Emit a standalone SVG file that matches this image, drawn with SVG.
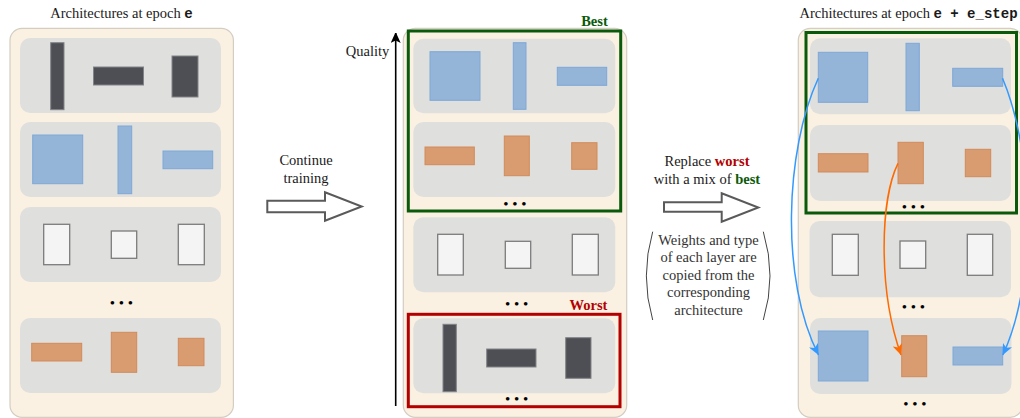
<svg xmlns="http://www.w3.org/2000/svg" width="1020" height="418" viewBox="0 0 1020 418">
<style>
.panel{fill:#fbf1e2;stroke:#d3cdc2;stroke-width:1.2}
.row{fill:#dfe0dd}
.dk{fill:#4e4f54;stroke:#828387;stroke-width:1}
.bl{fill:#95b5d8;stroke:#7ea7d6;stroke-width:1}
.or{fill:#d99c70;stroke:#d18a5b;stroke-width:1}
.wh{fill:#f4f4f4;stroke:#7b7b7b;stroke-width:1.3}
.t{font-family:"Liberation Serif","Times New Roman",serif;font-size:14.5px;fill:#1a1a1a;text-anchor:middle}
.d{fill:#333}
.mono{font-family:"Liberation Mono","Courier New",monospace;font-weight:bold;font-size:14px}
.dots{font-family:"Liberation Serif",serif;font-size:15px;fill:#000;text-anchor:middle}
.best{fill:none;stroke:#0b5a0b;stroke-width:3}
.worst{fill:none;stroke:#b30000;stroke-width:3}
.g{fill:#0b5a0b;font-weight:bold}
.r{fill:#b30000;font-weight:bold}
.hollow{fill:#fff;stroke:#5a5a5a;stroke-width:2;stroke-linejoin:miter}
.paren{fill:none;stroke:#444;stroke-width:1}
</style>
<defs>
<marker id="ab" markerUnits="userSpaceOnUse" markerWidth="12" markerHeight="10" refX="11" refY="5" orient="auto"><path d="M0,0 L11,5 L0,10 L3,5 z" fill="#3399ff"/></marker>
<marker id="ao" markerUnits="userSpaceOnUse" markerWidth="12" markerHeight="10" refX="11" refY="5" orient="auto"><path d="M0,0 L11,5 L0,10 L3,5 z" fill="#ff6a00"/></marker>
<marker id="ak" markerUnits="userSpaceOnUse" markerWidth="10" markerHeight="12" refX="10" refY="5" orient="auto"><path d="M0,0 L11,5 L0,10 L2.5,5 z" fill="#000"/></marker>
</defs>

<text class="t" x="121.5" y="17.5">Architectures at epoch <tspan class="mono">e</tspan></text>
<text class="t" x="908.5" y="17.5">Architectures at epoch <tspan class="mono">e + e_step</tspan></text>

<!-- Left panel -->
<g id="panel-left">
<rect class="panel" x="10" y="28.3" width="223.4" height="389" rx="12"/>
<g id="left-row1"><rect class="row" x="20" y="38" width="201" height="75" rx="10"/>
<rect class="dk" x="50.7" y="42.7" width="13.3" height="67"/>
<rect class="dk" x="93.5" y="67" width="50" height="18"/>
<rect class="dk" x="172" y="56" width="26" height="41"/></g>
<g id="left-row2"><rect class="row" x="20" y="122" width="201" height="75" rx="10"/>
<rect class="bl" x="32.7" y="135" width="50" height="48.7"/>
<rect class="bl" x="118" y="126" width="13.7" height="67.7"/>
<rect class="bl" x="163" y="151" width="49.7" height="17.7"/></g>
<g id="left-row3"><rect class="row" x="20" y="207" width="201" height="75" rx="10"/>
<rect class="wh" x="43.7" y="224.3" width="26" height="40.4"/>
<rect class="wh" x="111.3" y="231" width="25.4" height="27.3"/>
<rect class="wh" x="178.3" y="224.3" width="26" height="40.4"/></g>
<text class="dots" x="121.5" y="308">• • •</text>
<g id="left-row4"><rect class="row" x="20" y="318" width="201" height="75" rx="10"/>
<rect class="or" x="31.7" y="343.3" width="50" height="17.7"/>
<rect class="or" x="111.3" y="332.3" width="25.4" height="40"/>
<rect class="or" x="178.3" y="338.3" width="25.7" height="27.4"/></g>
</g>

<!-- Continue training -->
<g id="continue-training">
<text class="t" x="306" y="164.5">Continue</text>
<text class="t" x="306" y="182.5">training</text>
<polygon class="hollow" points="267.3,200.7 325,200.7 325,192.3 361.7,206.5 325,220.7 325,212.3 267.3,212.3"/>
</g>

<!-- Middle panel -->
<g id="panel-middle">
<rect class="panel" x="403.3" y="28.3" width="223.4" height="389" rx="12"/>
<g id="mid-row1"><rect class="row" x="413.3" y="38.7" width="202" height="74.6" rx="10"/>
<rect class="bl" x="430" y="51.7" width="50" height="48.6"/>
<rect class="bl" x="513.3" y="42.7" width="12.7" height="66.6"/>
<rect class="bl" x="557.3" y="67.3" width="49.4" height="18"/></g>
<g id="mid-row2"><rect class="row" x="413.3" y="122" width="202" height="75" rx="10"/>
<rect class="or" x="425" y="147" width="49.3" height="17.7"/>
<rect class="or" x="504.3" y="136" width="25" height="39.7"/>
<rect class="or" x="571.7" y="142.7" width="25.3" height="26.6"/></g>
<text class="dots" x="515" y="209.3">• • •</text>
<rect id="best-box" class="best" x="408.3" y="31" width="212.4" height="180"/>
<text class="t g" x="594.5" y="26">Best</text>
<g id="mid-row3"><rect class="row" x="413.3" y="217.3" width="202" height="75" rx="10"/>
<rect class="wh" x="437.7" y="234.3" width="25.6" height="40.7"/>
<rect class="wh" x="505.3" y="241.3" width="25.4" height="27"/>
<rect class="wh" x="572.3" y="234.3" width="26" height="40.7"/></g>
<text class="dots" x="516.7" y="309.3">• • •</text>
<text class="t r" x="588.5" y="309.5">Worst</text>
<g id="mid-row4"><rect class="row" x="413.3" y="318.3" width="202" height="75" rx="10"/>
<rect class="dk" x="443" y="324.3" width="13.3" height="67.4"/>
<rect class="dk" x="486.7" y="349" width="49.3" height="18"/>
<rect class="dk" x="565.7" y="337.7" width="25.3" height="40.6"/></g>
<text class="dots" x="516.7" y="404.3">• • •</text>
<rect id="worst-box" class="worst" x="408.3" y="314.3" width="211.7" height="92.4"/>
</g>

<text class="t" x="367.5" y="56">Quality</text>

<!-- Replace worst -->
<g id="replace">
<text class="t" x="707" y="165.5">Replace <tspan class="r">worst</tspan></text>
<text class="t" x="707" y="183.5">with a mix of <tspan class="g">best</tspan></text>
<polygon class="hollow" points="664,202.3 721.7,202.3 721.7,193.3 758.3,207.5 721.7,221.7 721.7,211.7 664,211.7"/>
</g>
<g id="note">
<path class="paren" d="M652.7,231.7 Q640,276 652.7,320"/>
<path class="paren" d="M763.3,231.7 Q776.7,276 763.3,320"/>
<text class="t d" x="708.5" y="244.5">Weights and type</text>
<text class="t d" x="708.5" y="262">of each layer are</text>
<text class="t d" x="708.5" y="279.5">copied from the</text>
<text class="t d" x="708.5" y="297">corresponding</text>
<text class="t d" x="708.5" y="314.5">architecture</text>
</g>

<!-- Right panel -->
<g id="panel-right">
<rect class="panel" x="798.3" y="28.3" width="224" height="389" rx="12"/>
<g id="right-row1"><rect class="row" x="810" y="38.3" width="201" height="76" rx="10"/>
<rect class="bl" x="818.3" y="52.3" width="49.4" height="50"/>
<rect class="bl" x="906" y="43.3" width="13.3" height="67.4"/>
<rect class="bl" x="952.7" y="68.3" width="50" height="18"/></g>
<g id="right-row2"><rect class="row" x="810" y="125" width="201" height="76" rx="10"/>
<rect class="or" x="818.3" y="153.7" width="49.7" height="18.3"/>
<rect class="or" x="898" y="142.3" width="25.3" height="41.4"/>
<rect class="or" x="965.3" y="149.3" width="25.4" height="27.4"/></g>
<text class="dots" x="913.3" y="212.3">• • •</text>
<rect id="best-box-2" class="best" x="806" y="32.5" width="210.5" height="180.5"/>
<g id="right-row3"><rect class="row" x="809.5" y="221" width="201.5" height="76.3" rx="10"/>
<rect class="wh" x="832.3" y="234.3" width="26" height="41"/>
<rect class="wh" x="900" y="241" width="25.7" height="27.3"/>
<rect class="wh" x="967.3" y="234.3" width="25.4" height="41"/></g>
<text class="dots" x="913.3" y="312.3">• • •</text>
<g id="right-row4"><rect class="row" x="810" y="318" width="201.5" height="76" rx="10"/>
<rect class="bl" x="818.3" y="331" width="49.7" height="50"/>
<rect class="or" x="901.7" y="335.7" width="25" height="41"/>
<rect class="bl" x="953" y="347" width="49.7" height="18"/></g>
<text class="dots" x="915" y="409.3">• • •</text>
</g>

<!-- Connectors -->
<g id="connectors" fill="none">
<path d="M395.7,406 L395.7,33" stroke="#000" stroke-width="1.6" marker-end="url(#ak)"/>
<path d="M818.3,78.3 C785,150 780,280 818.5,355" stroke="#3399ff" stroke-width="1.5" marker-end="url(#ab)"/>
<path d="M1002.5,78.3 C1033,150 1038,280 1002.8,355" stroke="#3399ff" stroke-width="1.5" marker-end="url(#ab)"/>
<path d="M898,163.3 C880,200 878,290 901,355" stroke="#ff6a00" stroke-width="1.5" marker-end="url(#ao)"/>
</g>
</svg>
